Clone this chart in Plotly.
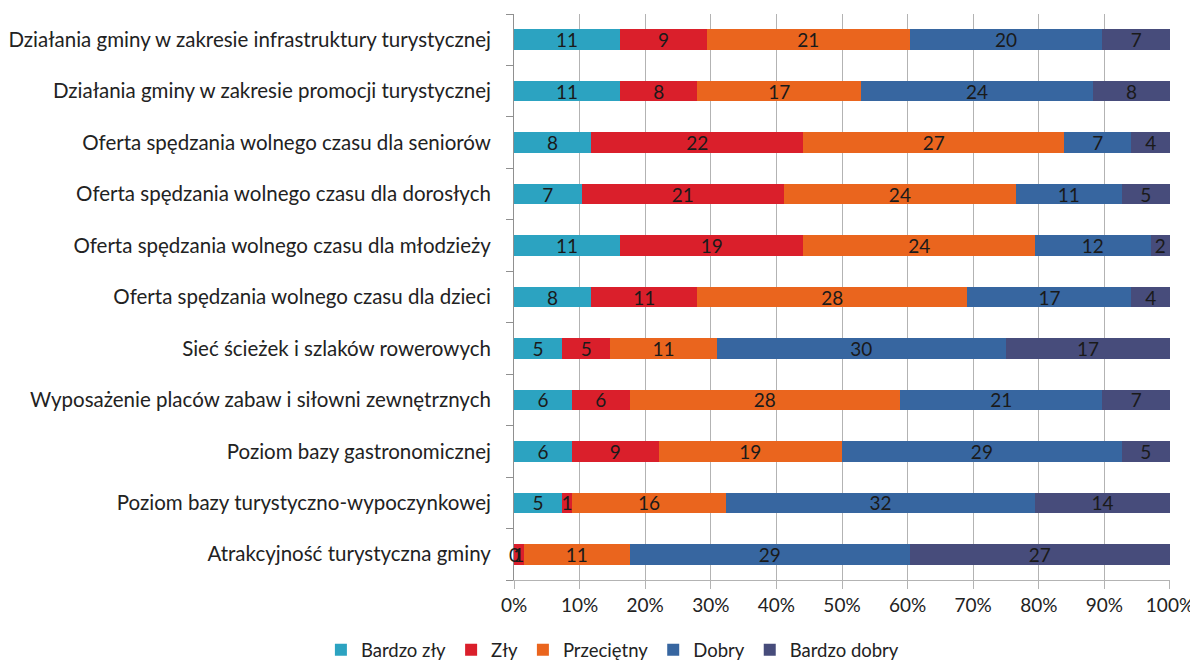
import plotly.graph_objects as go

# categories, bottom to top
categories = [
    "Atrakcyjność turystyczna gminy",
    "Poziom bazy turystyczno-wypoczynkowej",
    "Poziom bazy gastronomicznej",
    "Wyposażenie placów zabaw i siłowni zewnętrznych",
    "Sieć ścieżek i szlaków rowerowych",
    "Oferta spędzania wolnego czasu dla dzieci",
    "Oferta spędzania wolnego czasu dla młodzieży",
    "Oferta spędzania wolnego czasu dla dorosłych",
    "Oferta spędzania wolnego czasu dla seniorów",
    "Działania gminy w zakresie promocji turystycznej",
    "Działania gminy w zakresie infrastruktury turystycznej",
]

bardzo_zly = [0, 5, 6, 6, 5, 8, 11, 7, 8, 11, 11]
zly = [1, 1, 9, 6, 5, 11, 19, 21, 22, 8, 9]
przecietny = [11, 16, 19, 28, 11, 28, 24, 24, 27, 17, 21]
dobry = [29, 32, 29, 21, 30, 17, 12, 11, 7, 24, 20]
bardzo_dobry = [27, 14, 5, 7, 17, 4, 2, 5, 4, 8, 7]

pct_ticks = [0, 10, 20, 30, 40, 50, 60, 70, 80, 90, 100]
pct_labels = ["0%", "10%", "20%", "30%", "40%", "50%", "60%", "70%", "80%", "90%", "100%"]

series = [
    ("Bardzo zły", bardzo_zly, "#2ca3c1"),
    ("Zły", zly, "#da1f2b"),
    ("Przeciętny", przecietny, "#ea651e"),
    ("Dobry", dobry, "#3766a0"),
    ("Bardzo dobry", bardzo_dobry, "#474c7b"),
]

font = "Lato, Open Sans, sans-serif"

fig = go.Figure()
for name, vals, col in series:
    fig.add_trace(go.Bar(
        y=categories, x=vals, name=name, orientation="h",
        marker=dict(color=col, line=dict(width=0)),
        text=[str(v) for v in vals], textposition="inside", textangle=0,
        insidetextanchor="middle", constraintext="none",
        textfont=dict(color="#1a1a1a", size=19, family=font),
        cliponaxis=False,
    ))

# zero-valued segments get no bar text in plotly, so label them by hand
totals = [sum(s[1][i] for s in series) for i in range(len(categories))]
for i, cat in enumerate(categories):
    cum = 0
    for name, vals, col in series:
        if vals[i] == 0:
            fig.add_annotation(x=cum / totals[i] * 100, y=cat, text="0",
                               showarrow=False, xanchor="center",
                               font=dict(color="#1a1a1a", size=19, family=font))
        cum += vals[i]

fig.update_layout(
    barmode="stack", barnorm="percent", bargap=0.6,
    width=1190, height=658,
    margin=dict(l=506, r=28, t=6, b=86),
    paper_bgcolor="white", plot_bgcolor="white",
    font=dict(family=font, size=19, color="#222"),
    legend=dict(orientation="h", x=0.15, xanchor="center",
                yref="container", y=0.024, yanchor="middle",
                font=dict(size=18.5), traceorder="normal", itemwidth=30,
                tracegroupgap=0),
    xaxis=dict(range=[0, 100.001], tickvals=pct_ticks, ticktext=pct_labels,
               showgrid=True,
               gridcolor="#b3b3b3", gridwidth=1, zeroline=False,
               showline=True, linecolor="#b3b3b3", ticks="outside",
               tickcolor="#b3b3b3", ticklen=8, tickfont=dict(size=19),
               automargin=False),
    yaxis=dict(showline=True, linecolor="#909090", ticks="outside",
               tickson="boundaries", tickcolor="#909090", ticklen=7,
               ticklabelstandoff=18, tickfont=dict(size=20.5),
               automargin=False, range=[-0.5, 10.5]),
)

fig.write_html("out.html")
